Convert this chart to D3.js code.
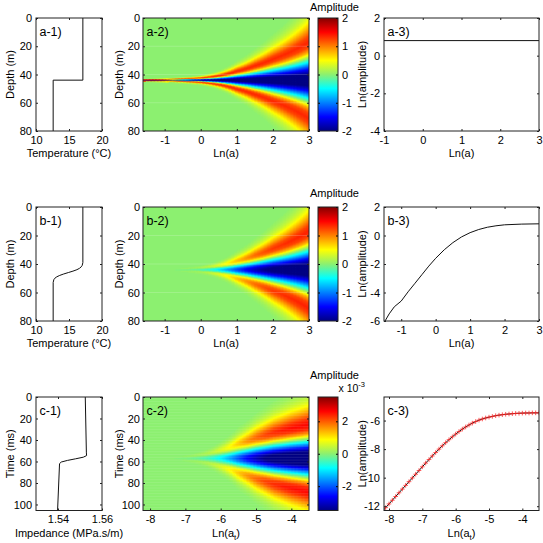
<!DOCTYPE html>
<html>
<head>
<meta charset="utf-8">
<script src="https://cdn.jsdelivr.net/npm/d3@7"></script>
<style>
  body { margin: 0; background: #fff; }
  svg text { font-family: "Liberation Sans", Arial, Helvetica, sans-serif; }
</style>
</head>
<body>
<svg id="chart" width="543" height="543"></svg>
<script>
// ---- values ----

// a-1 / b-1: temperature against depth
const depthA1 = [0, 44, 44, 80];
const tempA1 = [17.1, 17.1, 12.6, 12.6];
const depthB1 = [0, 39, 41, 42, 43, 44, 45, 46, 47, 48, 49, 50, 51, 53, 80];
const tempB1 = [17.1, 17.1, 17.0, 16.85, 16.6, 16.2, 15.6, 14.9, 14.2, 13.6, 13.15, 12.85, 12.7, 12.6, 12.6];

// c-1: impedance against time
const timeC1 = [0, 52, 54.5, 56, 57.5, 59, 60.5, 62, 106];
const impC1 = [1.5524, 1.5529, 1.553, 1.5515, 1.548, 1.5443, 1.5415, 1.5407, 1.5398];

// a-3 / b-3 / c-3: ln(amplitude) against ln(a)
const lnA_a3 = [-1.6, 3];
const lnAmp_a3 = [0.8, 0.8];
const lnA_b3 = [-1.47, -1.35, -1.2, -1.0, -0.8, -0.6, -0.4, -0.2, 0, 0.25, 0.5, 0.75, 1.0, 1.25, 1.5, 1.75, 2.0, 2.5, 3.0];
const lnAmp_b3 = [-6.0, -5.5, -5.0, -4.6, -3.95, -3.35, -2.75, -2.15, -1.6, -1.0, -0.5, -0.1, 0.2, 0.42, 0.58, 0.68, 0.75, 0.8, 0.82];
const lnAt_c3 = [-8.2, -8.1, -8.0, -7.9, -7.8, -7.7, -7.6, -7.5, -7.4, -7.3, -7.2, -7.1, -7.0, -6.9, -6.8, -6.7,
  -6.6, -6.5, -6.4, -6.3, -6.2, -6.1, -6.0, -5.9, -5.8, -5.7, -5.6, -5.5, -5.4, -5.3, -5.2, -5.1,
  -5.0, -4.9, -4.8, -4.7, -4.6, -4.5, -4.4, -4.3, -4.2, -4.1, -4.0, -3.9, -3.8, -3.7, -3.6, -3.5];
const lnAmp_c3 = [-12.36, -12.1, -11.84, -11.58, -11.32, -11.06, -10.8, -10.54, -10.28, -10.02, -9.76, -9.5, -9.24, -8.98, -8.73, -8.48,
  -8.24, -8.0, -7.77, -7.55, -7.34, -7.14, -6.95, -6.77, -6.6, -6.45, -6.31, -6.18, -6.07, -5.97, -5.89, -5.82,
  -5.76, -5.71, -5.66, -5.62, -5.59, -5.56, -5.54, -5.52, -5.5, -5.49, -5.48, -5.47, -5.47, -5.46, -5.46, -5.46];

// a-2 / b-2 / c-2: half width of the cone (m or ms) against ln(a)
const coneLnA = [-1.6, -1, -0.5, 0, 0.5, 1, 1.5, 2, 2.5, 3];
const coneWidthAB = [0.25, 0.35, 0.55, 0.9, 1.8, 3.6, 5.8, 8.5, 11.5, 15.5];
const coneLnAt = [-8.2, -7.5, -7, -6.5, -6, -5.5, -5, -4.5, -4, -3.5];
const coneWidthC = [0.3, 0.6, 1.1, 2.2, 4.5, 7.8, 11, 13.8, 16, 18];
// profile across the cone, relative to the centre value, in half widths
const profileT = [0, 0.25, 0.5, 0.75, 1, 1.25, 1.5, 1.75, 2, 2.25, 2.5, 2.75, 3, 3.25, 3.5, 3.75, 4];
const profileV = [-1, -0.91, -0.66, -0.33, 0, 0.35, 0.55, 0.61, 0.55, 0.43, 0.31, 0.2, 0.12, 0.07, 0.035, 0.015, 0];
const centreDepth = 44;
const centreTime = 57;

// ticks
const depthTicks = [0, 20, 40, 60, 80];
const timeTicks = [0, 20, 40, 60, 80, 100];
const tempTicks = [10, 15, 20];
const impTicks = [1.54, 1.56];
const lnATicks = [-1, 0, 1, 2, 3];
const lnAtTicks = [-8, -7, -6, -5, -4];
const ampTicks = [-2, -1, 0, 1, 2];
const ampTicksC = [-0.002, 0, 0.002];
const lnAmpTicksA = [-4, -2, 0, 2];
const lnAmpTicksB = [-6, -4, -2, 0, 2];
const lnAmpTicksC = [-12, -10, -8, -6];

// ---- drawing ----
const svg = d3.select("#chart");
const FONT = "'Liberation Sans', Arial, Helvetica, sans-serif";

const jetPos = [0, 0.125, 0.375, 0.5, 0.625, 0.875, 1];
const jetCol = ["#000084", "#0000ff", "#00ffff", "#8cf070", "#ffff00", "#ff0000", "#840000"];
const jet = (lo, hi) => d3.scaleLinear()
  .domain(jetPos.map(p => lo + p * (hi - lo))).range(jetCol).clamp(true);

const rowY = { a: [18, 131], b: [207, 321], c: [397, 510.5] };
const colX = { c1: [36, 102], c2: [143, 309], cb: [318, 338], c3: [384, 539] };

const fmt = d => String(d);

function axes(g, x, y, xt, yt, yPad, xFmt = fmt, yFmt = fmt) {
  const [x0, x1] = x.range(), [y0, y1] = y.range();
  g.append("g").attr("transform", `translate(0,${y1})`)
    .call(d3.axisBottom(x).tickValues(xt).tickSize(-2).tickPadding(5).tickFormat(xFmt));
  g.append("g").attr("transform", `translate(0,${y0})`)
    .call(d3.axisTop(x).tickValues(xt).tickSize(-2).tickFormat(""));
  g.append("g").attr("transform", `translate(${x0},0)`)
    .call(d3.axisLeft(y).tickValues(yt).tickSize(-2).tickPadding(yPad).tickFormat(yFmt));
  g.append("g").attr("transform", `translate(${x1},0)`)
    .call(d3.axisRight(y).tickValues(yt).tickSize(-2).tickFormat(""));
  g.selectAll(".domain").remove();
  g.selectAll("g").attr("font-family", FONT).attr("font-size", 11);
  g.selectAll(".tick line").attr("stroke", "#222");
  g.append("rect").attr("x", x0).attr("y", y0).attr("width", x1 - x0).attr("height", y1 - y0)
    .attr("fill", "none").attr("stroke", "#222").attr("stroke-width", 1);
}

function clip(id, x, y) {
  const [x0, x1] = x.range(), [y0, y1] = y.range();
  svg.append("clipPath").attr("id", id).append("rect")
    .attr("x", x0).attr("y", y0).attr("width", x1 - x0).attr("height", y1 - y0);
  return `url(#${id})`;
}

function label(g, x, y, s) {
  g.append("text").attr("x", x.range()[0] + 3.5).attr("y", y.range()[0] + 17.5)
    .attr("font-size", 12.5).attr("font-family", FONT).text(s);
}

function xTitle(g, x, y, s, sub) {
  const t = g.append("text").attr("x", (x.range()[0] + x.range()[1]) / 2).attr("y", y.range()[1] + 26)
    .attr("text-anchor", "middle").attr("font-size", 11).attr("font-family", FONT);
  if (sub) {
    t.append("tspan").text(s);
    t.append("tspan").attr("font-size", 8).attr("dy", 3).text(sub);
    t.append("tspan").attr("dy", -3).text(")");
  } else t.text(s);
}

function yTitle(g, px, y, s) {
  const cy = (y.range()[0] + y.range()[1]) / 2;
  g.append("text").attr("transform", `translate(${px},${cy}) rotate(-90)`)
    .attr("text-anchor", "middle").attr("font-size", 11).attr("font-family", FONT).text(s);
}

// left column: profiles
function profilePanel(row, name, xDom, xt, yDom, yt, xs, ys, xLab, yLab) {
  const g = svg.append("g");
  const x = d3.scaleLinear(xDom, colX.c1);
  const y = d3.scaleLinear(yDom, rowY[row]);
  const pts = xs.map((v, i) => [v, ys[i]]);
  g.append("path").datum(pts).attr("clip-path", clip("clip-" + name, x, y))
    .attr("fill", "none").attr("stroke", "#111").attr("stroke-width", 1)
    .attr("d", d3.line().x(d => x(d[0])).y(d => y(d[1])));
  axes(g, x, y, xt, yt, 4);
  label(g, x, y, name + ")");
  xTitle(g, x, y, xLab);
  yTitle(g, 14, y, yLab);
}

profilePanel("a", "a-1", [10, 20], tempTicks, [0, 80], depthTicks, tempA1, depthA1, "Temperature (°C)", "Depth (m)");
profilePanel("b", "b-1", [10, 20], tempTicks, [0, 80], depthTicks, tempB1, depthB1, "Temperature (°C)", "Depth (m)");
profilePanel("c", "c-1", [1.53, 1.56], impTicks, [0, 105.6], timeTicks, impC1, timeC1, "Impedance (MPa.s/m)", "Time (ms)");

// middle column: scalograms with colour bars
function fieldPanel(row, name, xDom, xt, yDom, yt, o) {
  const g = svg.append("g");
  const x = d3.scaleLinear(xDom, colX.c2);
  const y = d3.scaleLinear(yDom, rowY[row]);
  const color = jet(-o.range, o.range);
  const width = d3.scaleLinear(o.coneX, o.coneW.map(Math.log));
  const amp = d3.scaleLinear(o.ampX, o.ampY).clamp(true);
  const shape = d3.scaleLinear(profileT, profileV).clamp(true);
  const dx = 0.04, dz = 0.5;
  const cells = [];
  d3.range(xDom[0] + dx / 2, xDom[1] + dx / 2, dx).forEach(ln => {
    const w = Math.exp(width(ln)), A = Math.exp(amp(ln));
    d3.range(yDom[0], yDom[1] + dz / 2, dz).forEach(z => {
      const v = A * shape(Math.abs(z - o.centre) / w);
      if (Math.abs(v) > 0.012 * o.range) cells.push({ ln, z, v });
    });
  });
  const cg = g.append("g").attr("clip-path", clip("clip-" + name, x, y));
  cg.append("rect").attr("x", colX.c2[0]).attr("y", rowY[row][0])
    .attr("width", colX.c2[1] - colX.c2[0]).attr("height", rowY[row][1] - rowY[row][0])
    .attr("fill", color(0));
  const cw = x(dx) - x(0) + 0.6, ch = y(dz) - y(0) + 0.6;
  cg.selectAll("rect.cell").data(cells).join("rect").attr("class", "cell")
    .attr("x", d => x(d.ln - dx / 2)).attr("y", d => y(d.z - dz / 2))
    .attr("width", cw).attr("height", ch).attr("fill", d => color(d.v));
  // faint sampling lines
  cg.selectAll("line.faint").data(o.faint).join("line").attr("class", "faint")
    .attr("x1", colX.c2[0]).attr("x2", colX.c2[1])
    .attr("y1", d => y(d)).attr("y2", d => y(d))
    .attr("stroke", "#fff").attr("stroke-opacity", o.faintOpacity).attr("stroke-width", 0.7);
  axes(g, x, y, xt, yt, 3);
  label(g, x, y, name + ")");
  xTitle(g, x, y, o.xLab, o.xSub);
  yTitle(g, 123, y, o.yLab);

  // colour bar
  const cy = d3.scaleLinear([-o.range, o.range], [rowY[row][1], rowY[row][0]]);
  const gid = "grad-" + name;
  const grad = svg.append("defs").append("linearGradient").attr("id", gid)
    .attr("x1", 0).attr("x2", 0).attr("y1", 1).attr("y2", 0);
  grad.selectAll("stop").data(jetPos).join("stop")
    .attr("offset", d => d).attr("stop-color", (d, i) => jetCol[i]);
  const bg = svg.append("g");
  bg.append("rect").attr("x", colX.cb[0]).attr("y", rowY[row][0])
    .attr("width", colX.cb[1] - colX.cb[0]).attr("height", rowY[row][1] - rowY[row][0])
    .attr("fill", `url(#${gid})`);
  bg.append("g").attr("transform", `translate(${colX.cb[1]},0)`)
    .call(d3.axisRight(cy).tickValues(o.cbTicks).tickSize(-2).tickPadding(4).tickFormat(o.cbFmt));
  bg.append("g").attr("transform", `translate(${colX.cb[0]},0)`)
    .call(d3.axisLeft(cy).tickValues(o.cbTicks).tickSize(-2).tickFormat(""));
  bg.selectAll(".domain").remove();
  bg.selectAll("g").attr("font-family", FONT).attr("font-size", 11);
  bg.append("rect").attr("x", colX.cb[0]).attr("y", rowY[row][0])
    .attr("width", colX.cb[1] - colX.cb[0]).attr("height", rowY[row][1] - rowY[row][0])
    .attr("fill", "none").attr("stroke", "#222");
  bg.append("text").attr("x", 334.5).attr("y", o.titleY).attr("text-anchor", "middle")
    .attr("font-size", 11).attr("font-family", FONT).text("Amplitude");
  if (o.exponent) {
    const t = bg.append("text").attr("x", 338.5).attr("y", o.titleY + 12.5)
      .attr("font-size", 10.5).attr("font-family", FONT);
    t.append("tspan").text("x 10");
    t.append("tspan").attr("font-size", 7.5).attr("dy", -5).text(o.exponent);
  }
}

fieldPanel("a", "a-2", [-1.6, 3], lnATicks, [0, 80], depthTicks, {
  range: 2, centre: centreDepth, coneX: coneLnA, coneW: coneWidthAB, ampX: lnA_a3, ampY: lnAmp_a3,
  faint: [20, 40, 60], faintOpacity: 0.25, xLab: "Ln(a)", yLab: "Depth (m)",
  cbTicks: ampTicks, cbFmt: fmt, titleY: 10.5
});
fieldPanel("b", "b-2", [-1.6, 3], lnATicks, [0, 80], depthTicks, {
  range: 2, centre: centreDepth, coneX: coneLnA, coneW: coneWidthAB, ampX: lnA_b3, ampY: lnAmp_b3,
  faint: [20, 40, 60], faintOpacity: 0.25, xLab: "Ln(a)", yLab: "Depth (m)",
  cbTicks: ampTicks, cbFmt: fmt, titleY: 197
});
fieldPanel("c", "c-2", [-8.2, -3.5], lnAtTicks, [0, 105.6], timeTicks, {
  range: 0.0035, centre: centreTime, coneX: coneLnAt, coneW: coneWidthC, ampX: lnAt_c3, ampY: lnAmp_c3,
  faint: d3.range(1.5, 105.6, 2.6), faintOpacity: 0.14, xLab: "Ln(a", xSub: "t", yLab: "Time (ms)",
  cbTicks: ampTicksC, cbFmt: d => String(Math.round(d * 1000)), titleY: 379, exponent: "-3"
});

// right column: ln(amplitude) curves
function ampPanel(row, name, xDom, xt, yDom, yt, xs, ys, o) {
  const g = svg.append("g");
  const x = d3.scaleLinear(xDom, colX.c3);
  const y = d3.scaleLinear(yDom, rowY[row]);
  const pts = xs.map((v, i) => [v, ys[i]]);
  const cp = clip("clip-" + name, x, y);
  g.append("path").datum(pts).attr("clip-path", cp)
    .attr("fill", "none").attr("stroke", "#111").attr("stroke-width", 1)
    .attr("d", d3.line().x(d => x(d[0])).y(d => y(d[1])));
  if (o.markers) {
    g.append("g").attr("clip-path", cp).selectAll("path").data(pts).join("path")
      .attr("transform", d => `translate(${x(d[0])},${y(d[1])})`)
      .attr("d", "M-2.3,0H2.3M0,-2.3V2.3").attr("stroke", "#f22").attr("stroke-width", 0.9)
      .attr("stroke-opacity", 0.85);
  }
  axes(g, x, y, xt, yt, 4);
  label(g, x, y, name + ")");
  xTitle(g, x, y, o.xLab, o.xSub);
  yTitle(g, 366, y, "Ln(amplitude)");
}

ampPanel("a", "a-3", [-1, 3], lnATicks, [2, -4], lnAmpTicksA, lnA_a3, lnAmp_a3, { xLab: "Ln(a)" });
ampPanel("b", "b-3", [-1.5, 3], lnATicks, [2, -6], lnAmpTicksB, lnA_b3, lnAmp_b3, { xLab: "Ln(a)" });
ampPanel("c", "c-3", [-8.15, -3.5], lnAtTicks, [-4.35, -12.3], lnAmpTicksC, lnAt_c3, lnAmp_c3,
  { xLab: "Ln(a", xSub: "t", markers: true });
</script>
</body>
</html>
